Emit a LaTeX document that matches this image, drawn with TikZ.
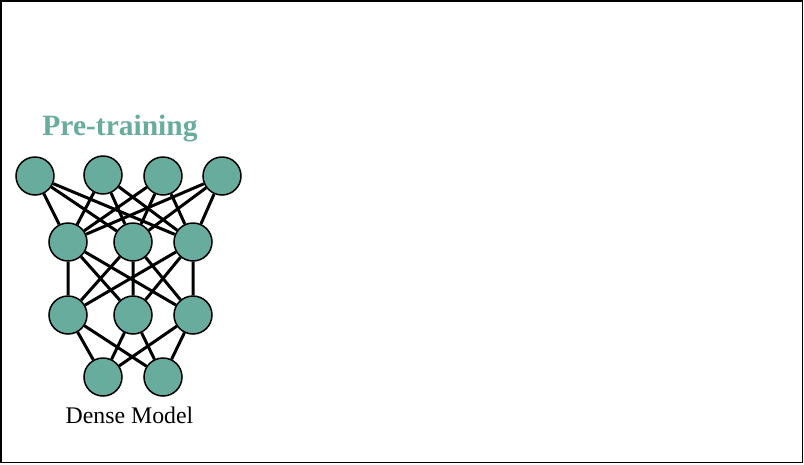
\documentclass[tikz,border=0pt]{standalone}
\usepackage{fontspec}
\setmainfont{Liberation Serif}
\definecolor{teal}{RGB}{104,172,158}
\begin{document}
\begin{tikzpicture}[x=1pt,y=-1pt,
		neuron/.style={circle,draw=black,fill=teal,line width=1.5pt,minimum size=38pt,inner sep=0pt},
		link/.style={line width=3pt}]
		\useasboundingbox (0,0) rectangle (804,464);
		\draw[line width=1.8pt] (1,1) rectangle (802.5,462.5);
		\node[font=\fontsize{29.5}{32}\selectfont\bfseries,text=teal] (title) at (120,129) {Pre-training};
		% input layer
		\node[neuron] (t1) at (35,176) {};
		\node[neuron] (t2) at (103,175) {};
		\node[neuron] (t3) at (163,176) {};
		\node[neuron] (t4) at (222,176) {};
		% hidden layers
		\node[neuron] (h1) at (68,242) {};
		\node[neuron] (h2) at (133,242) {};
		\node[neuron] (h3) at (193,242) {};
		\node[neuron] (m1) at (68,315) {};
		\node[neuron] (m2) at (133,315) {};
		\node[neuron] (m3) at (193,315) {};
		% output layer
		\node[neuron] (b1) at (103,377) {};
		\node[neuron] (b2) at (163,377) {};
		\node[font=\fontsize{23.8}{26}\selectfont] (label) at (129.5,415) {Dense Model};
		\draw[link] (t1) -- (h1) (t1) -- (h2) (t1) -- (h3);
		\draw[link] (t2) -- (h1) (t2) -- (h2) (t2) -- (h3);
		\draw[link] (t3) -- (h1) (t3) -- (h2) (t3) -- (h3);
		\draw[link] (t4) -- (h1) (t4) -- (h2) (t4) -- (h3);
		\draw[link] (h1) -- (m1) (h1) -- (m2) (h1) -- (m3);
		\draw[link] (h2) -- (m1) (h2) -- (m2) (h2) -- (m3);
		\draw[link] (h3) -- (m1) (h3) -- (m2) (h3) -- (m3);
		\draw[link] (m1) -- (b1) (m1) -- (b2);
		\draw[link] (m2) -- (b1) (m2) -- (b2);
		\draw[link] (m3) -- (b1) (m3) -- (b2);
	\end{tikzpicture}
\end{document}
